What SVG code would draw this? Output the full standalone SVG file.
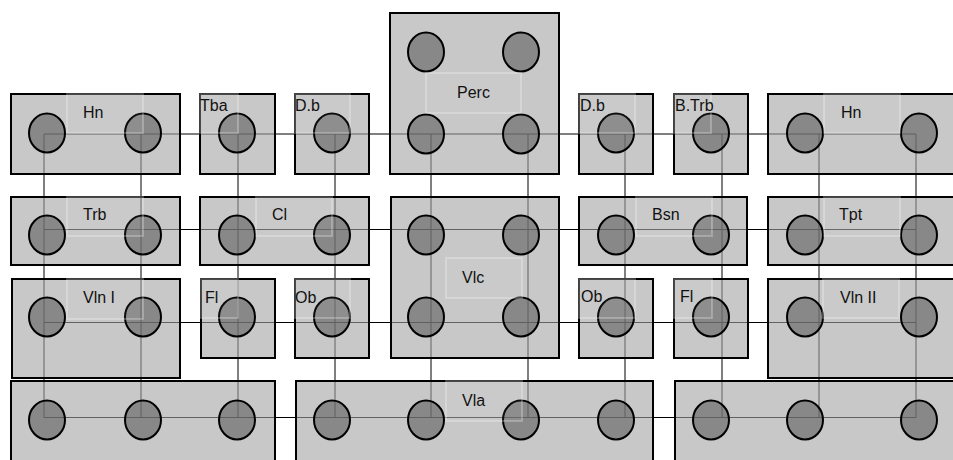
<svg xmlns="http://www.w3.org/2000/svg" width="953" height="460" viewBox="0 0 953 460">
<style>
.bg{fill:#ffffff}
.box{fill:rgb(163,163,163);fill-opacity:0.6;stroke:#000;stroke-width:2}
.seat{fill:rgb(93,93,93);fill-opacity:0.6;stroke:#000;stroke-width:2}
.inner{fill:#ffffff;fill-opacity:0.05;stroke:#ffffff;stroke-opacity:0.25;stroke-width:2}
.lbl{font-family:"Liberation Sans",Arial,sans-serif;font-size:16px;fill:#111}
.wire{stroke:#000;stroke-width:1;fill:none}
</style>
<defs>
<ellipse id="s" cx="0" cy="0" rx="18" ry="19.5"/>
</defs>
<rect class="bg" x="0" y="0" width="953" height="460"/>
<g id="connectors">
<line class="wire" x1="44" y1="134" x2="916" y2="134"/>
<line class="wire" x1="44" y1="229.5" x2="916" y2="229.5"/>
<line class="wire" x1="44" y1="322.5" x2="916" y2="322.5"/>
<line class="wire" x1="44" y1="417.5" x2="916" y2="417.5"/>
<line class="wire" x1="44" y1="134" x2="44" y2="417.5"/>
<line class="wire" x1="141" y1="134" x2="141" y2="417.5"/>
<line class="wire" x1="238" y1="134" x2="238" y2="417.5"/>
<line class="wire" x1="335" y1="134" x2="335" y2="417.5"/>
<line class="wire" x1="431" y1="134" x2="431" y2="417.5"/>
<line class="wire" x1="528" y1="134" x2="528" y2="417.5"/>
<line class="wire" x1="625" y1="134" x2="625" y2="417.5"/>
<line class="wire" x1="722" y1="134" x2="722" y2="417.5"/>
<line class="wire" x1="819" y1="134" x2="819" y2="417.5"/>
<line class="wire" x1="916" y1="134" x2="916" y2="417.5"/>
</g>
<g id="hn-left">
<rect class="box" x="11" y="94" width="169" height="80"/>
<use href="#s" class="seat" x="47" y="133"/>
<use href="#s" class="seat" x="143" y="133"/>
<rect class="inner" x="67" y="94" width="76" height="39"/>
<text class="lbl" x="83" y="118">Hn</text>
</g>
<g id="tba">
<rect class="box" x="200" y="94" width="75" height="80"/>
<use href="#s" class="seat" x="237" y="133"/>
<rect class="inner" x="200" y="94" width="38" height="39"/>
<text class="lbl" x="200" y="111">Tba</text>
</g>
<g id="db-left">
<rect class="box" x="295" y="94" width="74" height="80"/>
<use href="#s" class="seat" x="332" y="133"/>
<rect class="inner" x="295" y="94" width="55" height="39"/>
<text class="lbl" x="295" y="111">D.b</text>
</g>
<g id="perc">
<rect class="box" x="390" y="13" width="169" height="161"/>
<use href="#s" class="seat" x="426" y="52"/>
<use href="#s" class="seat" x="521" y="52"/>
<use href="#s" class="seat" x="426" y="134"/>
<use href="#s" class="seat" x="521" y="134"/>
<rect class="inner" x="426" y="73" width="95" height="40"/>
<text class="lbl" x="457" y="98">Perc</text>
</g>
<g id="db-right">
<rect class="box" x="579" y="94" width="74" height="80"/>
<use href="#s" class="seat" x="616" y="133"/>
<rect class="inner" x="579" y="94" width="56" height="39"/>
<text class="lbl" x="580" y="111">D.b</text>
</g>
<g id="btrb">
<rect class="box" x="674" y="94" width="74" height="80"/>
<use href="#s" class="seat" x="711" y="133"/>
<rect class="inner" x="674" y="94" width="37" height="39"/>
<text class="lbl" x="675" y="111">B.Trb</text>
</g>
<g id="hn-right">
<rect class="box" x="768" y="94" width="200" height="80"/>
<use href="#s" class="seat" x="805" y="133"/>
<use href="#s" class="seat" x="919" y="133"/>
<rect class="inner" x="824" y="94" width="76" height="39"/>
<text class="lbl" x="841" y="118">Hn</text>
</g>
<g id="trb">
<rect class="box" x="11" y="197" width="169" height="68"/>
<use href="#s" class="seat" x="47" y="235"/>
<use href="#s" class="seat" x="143" y="235"/>
<rect class="inner" x="67" y="197" width="76" height="39"/>
<text class="lbl" x="83" y="220">Trb</text>
</g>
<g id="cl">
<rect class="box" x="200" y="197" width="169" height="68"/>
<use href="#s" class="seat" x="237" y="235"/>
<use href="#s" class="seat" x="332" y="235"/>
<rect class="inner" x="256" y="197" width="76" height="39"/>
<text class="lbl" x="272" y="220">Cl</text>
</g>
<g id="vlc">
<rect class="box" x="391" y="197" width="168" height="161"/>
<use href="#s" class="seat" x="426" y="235"/>
<use href="#s" class="seat" x="521" y="235"/>
<use href="#s" class="seat" x="426" y="317"/>
<use href="#s" class="seat" x="521" y="317"/>
<rect class="inner" x="446" y="258" width="76" height="40"/>
<text class="lbl" x="462" y="283">Vlc</text>
</g>
<g id="bsn">
<rect class="box" x="579" y="197" width="168" height="68"/>
<use href="#s" class="seat" x="616" y="235"/>
<use href="#s" class="seat" x="711" y="235"/>
<rect class="inner" x="636" y="197" width="76" height="39"/>
<text class="lbl" x="652" y="220">Bsn</text>
</g>
<g id="tpt">
<rect class="box" x="768" y="197" width="200" height="68"/>
<use href="#s" class="seat" x="805" y="235"/>
<use href="#s" class="seat" x="919" y="235"/>
<rect class="inner" x="824" y="197" width="76" height="39"/>
<text class="lbl" x="839" y="220">Tpt</text>
</g>
<g id="vln-1">
<rect class="box" x="12" y="279" width="168" height="99"/>
<use href="#s" class="seat" x="47" y="317"/>
<use href="#s" class="seat" x="143" y="317"/>
<rect class="inner" x="67" y="279" width="76" height="40"/>
<text class="lbl" x="83" y="303">Vln I</text>
</g>
<g id="fl-left">
<rect class="box" x="201" y="279" width="74" height="79"/>
<use href="#s" class="seat" x="237" y="317"/>
<rect class="inner" x="201" y="279" width="37" height="39"/>
<text class="lbl" x="205" y="303">Fl</text>
</g>
<g id="ob-left">
<rect class="box" x="295" y="279" width="74" height="79"/>
<use href="#s" class="seat" x="332" y="317"/>
<rect class="inner" x="295" y="279" width="55" height="39"/>
<text class="lbl" x="295" y="303">Ob</text>
</g>
<g id="ob-right">
<rect class="box" x="579" y="279" width="74" height="79"/>
<use href="#s" class="seat" x="616" y="317"/>
<rect class="inner" x="579" y="279" width="56" height="39"/>
<text class="lbl" x="581" y="302">Ob</text>
</g>
<g id="fl-right">
<rect class="box" x="674" y="279" width="74" height="79"/>
<use href="#s" class="seat" x="711" y="317"/>
<rect class="inner" x="674" y="279" width="38" height="39"/>
<text class="lbl" x="680" y="302">Fl</text>
</g>
<g id="vln-2">
<rect class="box" x="768" y="279" width="200" height="99"/>
<use href="#s" class="seat" x="805" y="317"/>
<use href="#s" class="seat" x="919" y="317"/>
<rect class="inner" x="823" y="279" width="76" height="39"/>
<text class="lbl" x="840" y="303">Vln II</text>
</g>
<g id="bottom-left">
<rect class="box" x="11" y="381" width="264" height="100"/>
<use href="#s" class="seat" x="47" y="420"/>
<use href="#s" class="seat" x="143" y="420"/>
<use href="#s" class="seat" x="237" y="420"/>
</g>
<g id="vla">
<rect class="box" x="296" y="381" width="357" height="100"/>
<use href="#s" class="seat" x="332" y="420"/>
<use href="#s" class="seat" x="426" y="420"/>
<use href="#s" class="seat" x="521" y="420"/>
<use href="#s" class="seat" x="616" y="420"/>
<rect class="inner" x="446" y="381" width="76" height="40"/>
<text class="lbl" x="462" y="406">Vla</text>
</g>
<g id="bottom-right">
<rect class="box" x="675" y="381" width="300" height="100"/>
<use href="#s" class="seat" x="711" y="420"/>
<use href="#s" class="seat" x="805" y="420"/>
<use href="#s" class="seat" x="919" y="420"/>
</g>
</svg>
